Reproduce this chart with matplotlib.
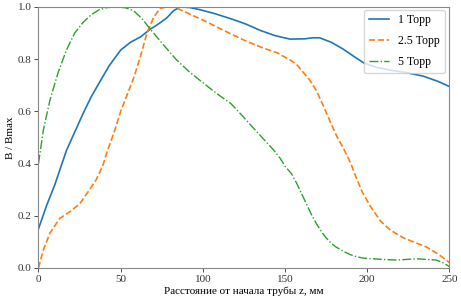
import matplotlib
matplotlib.use("Agg")
import matplotlib.pyplot as plt

# --------------------------
# Данные
# --------------------------
z_1 = [0, 5, 10, 17, 22, 27, 32, 37, 43, 50, 56, 62, 68, 73, 78, 82, 86, 92,
       98, 107, 117, 126, 135, 144, 153, 162, 167, 171, 178, 185, 192, 198,
       206, 214, 224, 234, 243, 250]
b_1 = [0.15, 0.24, 0.32, 0.45, 0.52, 0.59, 0.655, 0.71, 0.775, 0.835, 0.865,
       0.885, 0.915, 0.935, 0.958, 0.985, 1.0, 0.998, 0.99, 0.975, 0.955,
       0.935, 0.91, 0.89, 0.877, 0.878, 0.882, 0.882, 0.865, 0.84, 0.81,
       0.785, 0.768, 0.758, 0.748, 0.735, 0.715, 0.695]

z_25 = [0, 3, 7, 13, 19, 25, 30, 35, 39, 42, 46, 50, 54, 58, 62, 66, 70, 74,
        78, 82, 86, 93, 100, 108, 116, 126, 137, 145, 153, 157, 161, 165, 169,
        173, 177, 181, 186, 190, 193, 197, 202, 208, 214, 222, 230, 236, 242,
        246, 250]
b_25 = [0.0, 0.07, 0.134, 0.19, 0.215, 0.245, 0.29, 0.337, 0.39, 0.45, 0.52,
        0.6, 0.665, 0.73, 0.81, 0.9, 0.96, 0.995, 1.0, 1.0, 0.99, 0.97, 0.95,
        0.925, 0.9, 0.87, 0.842, 0.825, 0.797, 0.78, 0.75, 0.72, 0.68, 0.625,
        0.567, 0.51, 0.452, 0.4, 0.35, 0.29, 0.235, 0.18, 0.145, 0.115, 0.095,
        0.08, 0.057, 0.04, 0.02]

z_5 = [0, 3, 7, 12, 17, 22, 27, 32, 37, 42, 48, 53, 58, 63, 68, 76, 84, 92,
       100, 108, 117, 123, 129, 136, 143, 147, 150, 154, 157, 160, 163, 166,
       169, 172, 175, 178, 181, 186, 190, 194, 198, 208, 218, 230, 242, 246,
       250]
b_5 = [0.40, 0.53, 0.644, 0.75, 0.835, 0.9, 0.94, 0.97, 0.99, 0.998, 1.0,
       0.997, 0.985, 0.955, 0.915, 0.855, 0.797, 0.75, 0.71, 0.67, 0.63, 0.59,
       0.548, 0.5, 0.452, 0.42, 0.39, 0.36, 0.325, 0.285, 0.245, 0.205, 0.17,
       0.14, 0.115, 0.095, 0.08, 0.062, 0.05, 0.042, 0.037, 0.033, 0.03,
       0.035, 0.03, 0.02, 0.005]

labels = ["1 Торр", "2.5 Торр", "5 Торр"]

# --------------------------
# Рисунок
# --------------------------
plt.rcParams['font.family'] = ['Liberation Serif', 'DejaVu Serif']
plt.rcParams['font.size'] = 8

fig = plt.figure(figsize=(4.61, 2.99), dpi=100)
ax = fig.add_axes([0.0835, 0.104, 0.8915, 0.8726])

ax.plot(z_1, b_1, '-', color='tab:blue', lw=1.2, label=labels[0])
ax.plot(z_25, b_25, '--', color='tab:orange', lw=1.2, label=labels[1])
ax.plot(z_5, b_5, '-.', color='tab:green', lw=1.0, label=labels[2])

ax.set_xlim(0, 250)
ax.set_ylim(0, 1.0)
ax.set_xticks([0, 50, 100, 150, 200, 250])
ax.set_yticks([0.0, 0.2, 0.4, 0.6, 0.8, 1.0])
ax.set_xlabel("Расстояние от начала трубы z, мм")
ax.xaxis.set_label_coords(0.5, -0.071)
ax.set_ylabel("B / Bmax", labelpad=2)
for s in ax.spines.values():
    s.set_color('#888888')
ax.tick_params(colors='#333333', length=3, width=0.6, pad=2)
ax.legend(loc='upper right', fontsize=8.5, bbox_to_anchor=(1.003, 1.012),
          handlelength=1.7, labelspacing=0.75)

plt.savefig("out.png", dpi=100)
